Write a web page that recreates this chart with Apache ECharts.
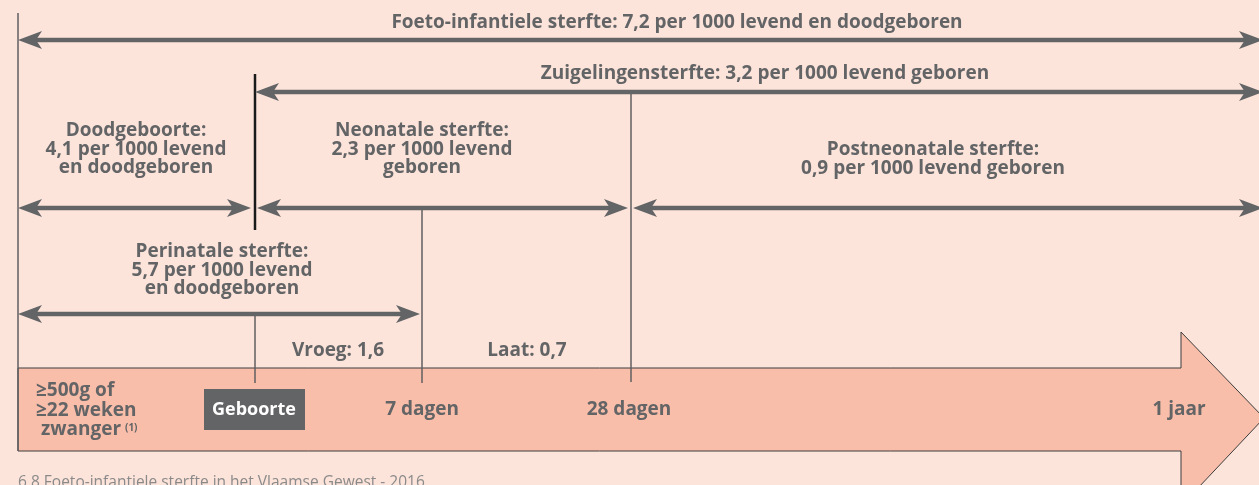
<!DOCTYPE html>
<html>
<head>
<meta charset="utf-8">
<script src="https://cdn.jsdelivr.net/npm/echarts@6/dist/echarts.min.js"></script>
<style>
html, body { margin: 0; padding: 0; background: #fde4db; }
#main { width: 1259px; height: 485px; }
</style>
</head>
<body>
<div id="main"></div>
<script>
// kleuren
var grijs = '#636466';
var achtergrond = '#fde4db';
var pijlKleur = '#f9beaa';
var lettertype = '"Open Sans", sans-serif';

// dubbele pijlen: begin, einde, hoogte (assen in beeldpunten van de figuur)
var pijlVan = [18, 255, 18, 257, 633, 18];
var pijlTot = [1263, 1263, 251, 628, 1263, 420];
var pijlRij = [40, 92, 208, 208, 208, 314];

// verticale scheidingslijnen: x, van, tot
var lijnX = [18, 255, 255, 422, 631];
var lijnVan = [13, 74, 314, 208, 93];
var lijnTot = [451, 230, 383, 383, 382];
var lijnZwart = [false, true, false, false, false];

// teksten met sterftecijfers
var teksten = [
	'Foeto-infantiele sterfte: 7,2 per 1000 levend en doodgeboren',
	'Zuigelingensterfte: 3,2 per 1000 levend geboren',
	'Doodgeboorte:\n4,1 per 1000 levend\nen doodgeboren',
	'Neonatale sterfte:\n2,3 per 1000 levend\ngeboren',
	'Postneonatale sterfte:\n0,9 per 1000 levend geboren',
	'Perinatale sterfte:\n5,7 per 1000 levend\nen doodgeboren',
	'Vroeg: 1,6',
	'Laat: 0,7'
];
var tekstX = [677, 765, 136, 422, 933, 222, 338, 527];
var tekstY = [21, 72, 129, 129, 148, 250, 349, 349];

// mijlpalen op de tijdslijn
var mijlpalen = ['Geboorte', '7 dagen', '28 dagen', '1 jaar'];
var mijlpaalX = [254, 422, 629, 1179];
var mijlpaalY = 410;

// omtrek van de grote pijl
var tijdslijn = [[18, 368], [1181, 368], [1181, 332], [1264, 418], [1181, 506], [1181, 451], [18, 451]];

var myChart = echarts.init(document.getElementById('main'));

function renderPijl(params, api) {
	var p1 = api.coord([api.value(0), api.value(2)]);
	var p2 = api.coord([api.value(1), api.value(2)]);
	var L = 24, B = 9, N = 18;
	return {
		type : 'group',
		children : [ {
			type : 'line',
			shape : { x1 : p1[0] + N, y1 : p1[1], x2 : p2[0] - N, y2 : p2[1] },
			style : { stroke : grijs, lineWidth : 4.5 }
		}, {
			type : 'polygon',
			shape : { points : [ [ p1[0], p1[1] ], [ p1[0] + L, p1[1] - B ], [ p1[0] + N, p1[1] ], [ p1[0] + L, p1[1] + B ] ] },
			style : { fill : grijs }
		}, {
			type : 'polygon',
			shape : { points : [ [ p2[0], p2[1] ], [ p2[0] - L, p2[1] - B ], [ p2[0] - N, p2[1] ], [ p2[0] - L, p2[1] + B ] ] },
			style : { fill : grijs }
		} ]
	};
}

function renderLijn(params, api) {
	var p1 = api.coord([api.value(0), api.value(1)]);
	var p2 = api.coord([api.value(0), api.value(2)]);
	var zwart = lijnZwart[params.dataIndex];
	return {
		type : 'line',
		shape : { x1 : p1[0], y1 : p1[1], x2 : p2[0], y2 : p2[1] },
		style : { stroke : zwart ? '#1a1a1a' : '#5f5f5f', lineWidth : zwart ? 2.5 : 1.5 }
	};
}

function renderTekst(params, api) {
	var p = api.coord([api.value(0), api.value(1)]);
	return {
		type : 'text',
		x : p[0],
		// eerste regel gecentreerd op y
		y : p[1] - 8,
		style : {
			text : teksten[params.dataIndex],
			font : 'bold 19px ' + lettertype,
			fill : grijs,
			align : 'center',
			verticalAlign : 'top',
			lineHeight : 18.8
		}
	};
}

function renderMijlpaal(params, api) {
	var p = api.coord([api.value(0), api.value(1)]);
	var i = params.dataIndex;
	var el = {
		type : 'text',
		x : p[0],
		y : p[1],
		style : {
			text : mijlpalen[i],
			font : 'bold ' + (i == 0 ? 18 : 19) + 'px ' + lettertype,
			fill : i == 0 ? '#ffffff' : grijs,
			align : 'center',
			verticalAlign : 'middle'
		}
	};
	if (i == 0) {
		return {
			type : 'group',
			children : [ {
				type : 'rect',
				shape : { x : p[0] - 50, y : p[1] - 21, width : 101, height : 41 },
				style : { fill : grijs }
			}, el ]
		};
	}
	return el;
}

var pijlData = [];
for (var i = 0; i < pijlVan.length; i++) {
	pijlData.push([ pijlVan[i], pijlTot[i], pijlRij[i] ]);
}
var lijnData = [];
for (var i = 0; i < lijnX.length; i++) {
	lijnData.push([ lijnX[i], lijnVan[i], lijnTot[i] ]);
}
var tekstData = [];
for (var i = 0; i < teksten.length; i++) {
	tekstData.push([ tekstX[i], tekstY[i] ]);
}
var mijlpaalData = [];
for (var i = 0; i < mijlpalen.length; i++) {
	mijlpaalData.push([ mijlpaalX[i], mijlpaalY ]);
}

var option = {
	backgroundColor : achtergrond,
	animation : false,
	grid : { left : 0, right : 0, top : 0, bottom : 0 },
	xAxis : { type : 'value', min : 0, max : 1259, show : false },
	yAxis : { type : 'value', min : 0, max : 485, inverse : true, show : false },
	series : [ {
		// de grote pijl
		type : 'custom',
		data : [ 0 ],
		renderItem : function(params, api) {
			var pts = [];
			for (var i = 0; i < tijdslijn.length; i++) {
				pts.push(api.coord(tijdslijn[i]));
			}
			return {
				type : 'polygon',
				shape : { points : pts },
				style : { fill : pijlKleur, stroke : '#3c3c3c', lineWidth : 1 }
			};
		}
	}, {
		type : 'custom',
		data : lijnData,
		renderItem : renderLijn
	}, {
		type : 'custom',
		data : pijlData,
		renderItem : renderPijl
	}, {
		type : 'custom',
		data : tekstData,
		renderItem : renderTekst
	}, {
		type : 'custom',
		data : mijlpaalData,
		renderItem : renderMijlpaal
	}, {
		// zwangerschapsgrens links op de pijl
		type : 'custom',
		data : [ [ 36, 381 ] ],
		renderItem : function(params, api) {
			var p = api.coord([ api.value(0), api.value(1) ]);
			return {
				type : 'group',
				children : [ {
					type : 'text',
					x : p[0],
					y : p[1],
					style : {
						text : '\u2265500g of\n\u226522 weken\n zwanger',
						font : 'bold 19px ' + lettertype,
						fill : grijs,
						align : 'left',
						verticalAlign : 'top',
						lineHeight : 19.5
					}
				}, {
					type : 'text',
					x : p[0] + 89,
					y : p[1] + 42,
					style : {
						text : '(1)',
						font : 'bold 10px ' + lettertype,
						fill : grijs,
						align : 'left',
						verticalAlign : 'top'
					}
				} ]
			};
		}
	} ],
	graphic : [ {
		type : 'text',
		left : 18,
		top : 475,
		style : {
			text : '6.8 Foeto-infantiele sterfte in het Vlaamse Gewest - 2016',
			font : '15.5px ' + lettertype,
			fill : '#8a8a8a'
		}
	} ]
};

myChart.setOption(option);
</script>
</body>
</html>
